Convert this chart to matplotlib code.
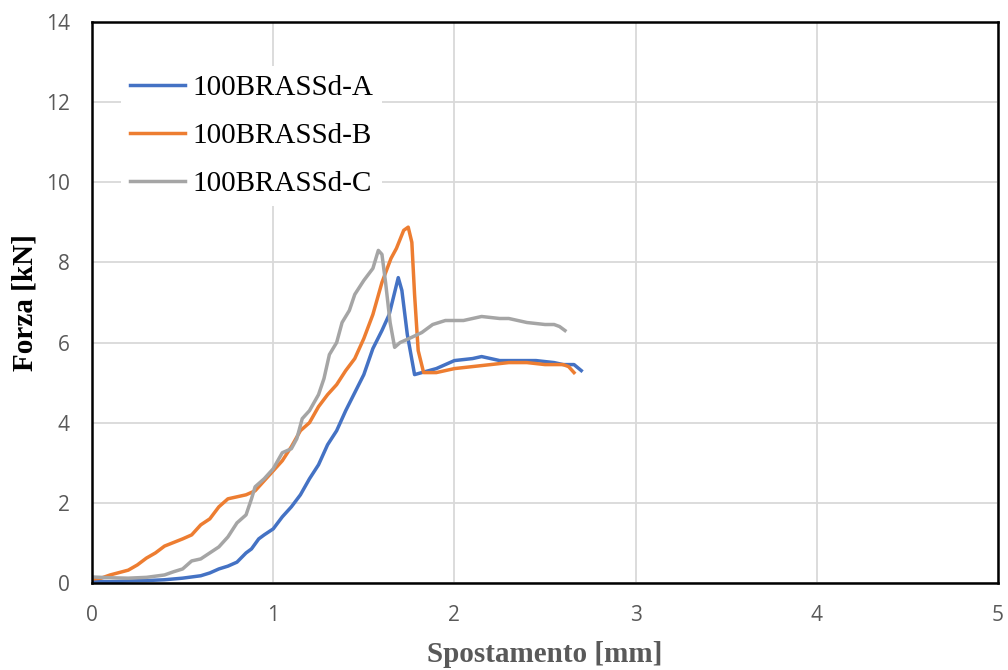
import matplotlib.pyplot as plt

# curve A (blue)
xa = [0.0, 0.1, 0.2, 0.3, 0.4, 0.5, 0.6, 0.65, 0.7, 0.75, 0.8, 0.85, 0.88, 0.92, 0.95,
      1.0, 1.05, 1.1, 1.15, 1.2, 1.25, 1.3, 1.35, 1.4, 1.45, 1.5, 1.55, 1.6, 1.64,
      1.67, 1.69, 1.71, 1.74, 1.78, 1.82, 1.9, 1.95, 2.0, 2.1, 2.15, 2.25, 2.35,
      2.45, 2.55, 2.6, 2.66, 2.7]
ya = [0.05, 0.03, 0.05, 0.06, 0.08, 0.12, 0.18, 0.25, 0.35, 0.42, 0.52, 0.75, 0.85, 1.1, 1.2,
      1.35, 1.65, 1.9, 2.2, 2.6, 2.95, 3.45, 3.8, 4.3, 4.75, 5.2, 5.85, 6.3, 6.7,
      7.25, 7.62, 7.3, 6.2, 5.2, 5.25, 5.35, 5.45, 5.55, 5.6, 5.65, 5.55, 5.55,
      5.55, 5.5, 5.45, 5.45, 5.3]

# curve B (orange)
xb = [0.0, 0.05, 0.1, 0.2, 0.25, 0.3, 0.35, 0.4, 0.5, 0.55, 0.6, 0.65, 0.7, 0.75, 0.8,
      0.85, 0.9, 0.95, 1.0, 1.05, 1.1, 1.15, 1.2, 1.25, 1.3, 1.35, 1.4, 1.45, 1.5,
      1.55, 1.6, 1.65, 1.68, 1.72, 1.745, 1.765, 1.78, 1.8, 1.83, 1.9, 2.0, 2.1, 2.2,
      2.3, 2.4, 2.5, 2.6, 2.63, 2.66]
yb = [0.1, 0.12, 0.2, 0.32, 0.45, 0.62, 0.75, 0.92, 1.1, 1.2, 1.45, 1.6, 1.9, 2.1, 2.15,
      2.2, 2.3, 2.55, 2.8, 3.05, 3.4, 3.8, 4.0, 4.4, 4.7, 4.95, 5.3, 5.6, 6.1,
      6.7, 7.5, 8.1, 8.35, 8.8, 8.88, 8.5, 7.2, 5.8, 5.25, 5.25, 5.35, 5.4, 5.45,
      5.5, 5.5, 5.45, 5.45, 5.4, 5.25]

# curve C (gray)
xc = [0.0, 0.1, 0.2, 0.3, 0.4, 0.45, 0.5, 0.55, 0.6, 0.65, 0.7, 0.75, 0.8, 0.85,
      0.88, 0.9, 0.95, 1.0, 1.05, 1.1, 1.13, 1.16, 1.2, 1.25, 1.28, 1.31, 1.35,
      1.38, 1.42, 1.45, 1.5, 1.55, 1.58, 1.6, 1.62, 1.645, 1.67, 1.7, 1.75, 1.82,
      1.88, 1.95, 2.05, 2.15, 2.25, 2.3, 2.4, 2.5, 2.55, 2.58, 2.61]
yc = [0.15, 0.13, 0.12, 0.14, 0.2, 0.28, 0.35, 0.55, 0.6, 0.75, 0.9, 1.15, 1.5, 1.7,
      2.1, 2.4, 2.6, 2.85, 3.25, 3.35, 3.6, 4.1, 4.3, 4.7, 5.1, 5.7, 6.0,
      6.5, 6.8, 7.2, 7.55, 7.85, 8.3, 8.2, 7.5, 6.5, 5.88, 6.0, 6.1, 6.25,
      6.45, 6.55, 6.55, 6.65, 6.6, 6.6, 6.5, 6.45, 6.45, 6.4, 6.3]

series = [
    (xa, ya, "100BRASSd-A", "#4472C4"),
    (xb, yb, "100BRASSd-B", "#ED7D31"),
    (xc, yc, "100BRASSd-C", "#A5A5A5"),
]

fig = plt.figure(figsize=(10.08, 6.70), dpi=100)
ax = fig.add_axes([0.0913, 0.1299, 0.8988, 0.8373])

for x, y, lab, col in series:
    ax.plot(x, y, color=col, lw=2.5, label=lab, solid_joinstyle="round")

ax.set_xlim(0, 5)
ax.set_ylim(0, 14)
ax.set_xticks(range(0, 6))
ax.set_yticks(range(0, 15, 2))
ax.grid(True, color="#D9D9D9", lw=1.3)
ax.set_axisbelow(True)
for s in ax.spines.values():
    s.set_color("black")
    s.set_linewidth(1.8)
ax.tick_params(length=0, pad=16, labelsize=15, labelcolor="#595959")
for t in ax.get_xticklabels() + ax.get_yticklabels():
    t.set_fontfamily("Open Sans")

ax.set_xlabel("Spostamento [mm]", fontsize=21, fontweight="bold",
              family="Liberation Serif", color="#595959", labelpad=11)
ax.set_ylabel("Forza [kN]", fontsize=21, fontweight="bold",
              family="Liberation Serif", color="black", labelpad=5)

leg = ax.legend(loc="upper left", bbox_to_anchor=(0.032, 0.922), frameon=True,
                prop={"family": "Liberation Serif", "size": 21},
                handlelength=1.9, handletextpad=0.25, labelspacing=0.74,
                borderpad=0.3, borderaxespad=0)
leg.get_frame().set_edgecolor("none")
leg.get_frame().set_facecolor("white")
leg.get_frame().set_alpha(1)

fig.savefig("out.png", dpi=100)
